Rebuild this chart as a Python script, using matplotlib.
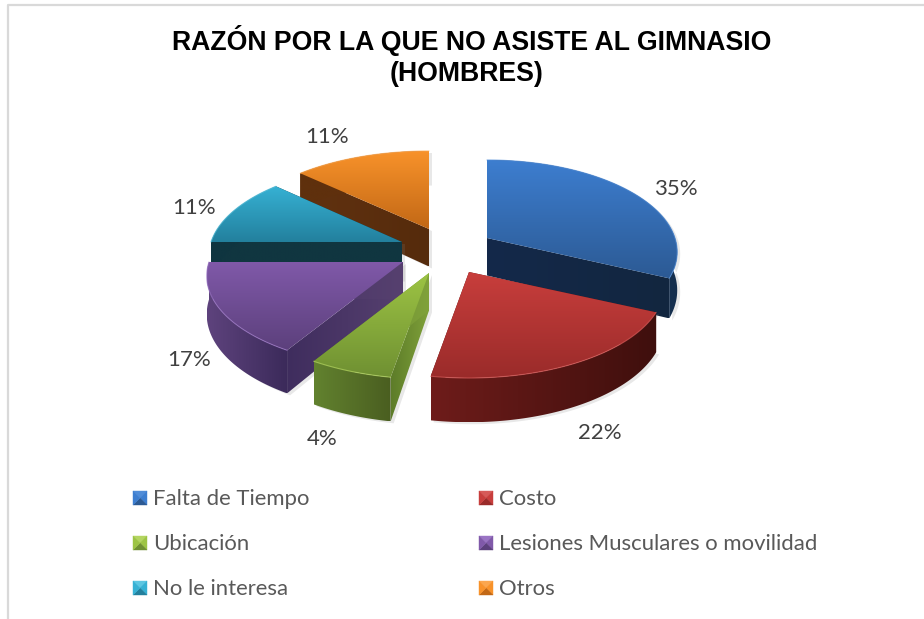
import numpy as np
import matplotlib
matplotlib.use("Agg")
import matplotlib.pyplot as plt
from matplotlib.colors import LinearSegmentedColormap
from matplotlib.patches import Polygon

# datos del grafico
categorias = ["Falta de Tiempo", "Costo", "Ubicación",
              "Lesiones Musculares o movilidad", "No le interesa", "Otros"]
porcentajes = [35, 22, 4, 17, 11, 11]
# tamano visible de cada porcion (la vista 3D lo deforma)
cuota_visible = [31.9, 20.8, 6.0, 16.3, 12.0, 13.0]
titulo_lineas = ["RAZÓN POR LA QUE NO ASISTE AL GIMNASIO", "(HOMBRES)"]

# estilo de cada porcion: vertice, cara superior, borde, corte, marcador
vertices = [(487, 238), (469, 272), (429, 273), (403, 262), (402, 242), (429, 229)]
radios = [188, 193, 193, 194, 191, 195]
sup_colores = [("#3d7ed0", "#2c5a94"), ("#c83e3c", "#9a2b2a"), ("#9dc444", "#6f9032"),
               ("#8059a9", "#5c407c"), ("#36b1d4", "#23809d"), ("#f8922a", "#c26816")]
pared_colores = [("#12253f", "#16304f"), ("#6e1c1a", "#3f0f0d"), ("#62822f", "#4a5e20"),
                 ("#5e437d", "#3b2a5a"), ("#0f3540", "#0f3540"), ("#5f300d", "#5f300d")]
corte_colores = [("#14294a", "#12263f"), ("#5a1614", "#5a1614"), ("#5d7c29", "#80a23a"),
                 ("#3f2d5e", "#56406f"), ("#103640", "#103640"), ("#623210", "#552b0c")]
brillo = ["#4f8cd8", "#d65a58", "#b4d561", "#9a74c4", "#5cc6e2", "#fba64e"]
pos_etiquetas = [(676, 189), (600, 433), (322, 439), (189, 360), (194, 208), (327, 137)]
pos_leyenda = [(133, 498), (479, 498), (133, 543), (479, 543), (133, 588), (479, 588)]
orden_dibujo = [5, 0, 4, 3, 2, 1]

ALTO_ATRAS = 78.0
ALTO_FRENTE = 106.0
k = (ALTO_FRENTE - ALTO_ATRAS) / (ALTO_FRENTE + ALTO_ATRAS)
a = ALTO_ATRAS * (1 + k)
GROSOR = 37.5

plt.rcParams["font.family"] = ["Lato", "DejaVu Sans"]
fig = plt.figure(figsize=(9.24, 6.19), dpi=100)
ax = fig.add_axes([0, 0, 1, 1])


def proyectar(theta, rx):
    x = np.sin(theta)
    y = np.cos(theta)
    s = 1 / (1 + k * y)
    return rx * x * s, -a * y * s, GROSOR * s


def relleno(puntos, colores, vertical, z):
    # degradado recortado con la forma del poligono
    puntos = np.asarray(puntos)
    cmap = LinearSegmentedColormap.from_list("g", colores)
    grad = np.linspace(0, 1, 256)
    grad = grad[:, None] if vertical else grad[None, :]
    x0, y0 = puntos.min(axis=0)
    x1, y1 = puntos.max(axis=0)
    im = ax.imshow(grad, cmap=cmap, extent=[x0, x1, y1, y0], aspect="auto",
                   origin="upper", zorder=z, interpolation="bilinear")
    forma = Polygon(puntos, closed=True, transform=ax.transData, facecolor="none", edgecolor="none")
    ax.add_patch(forma)
    im.set_clip_path(forma)


limites = np.cumsum([0] + cuota_visible) / 100 * 2 * np.pi
z = 3
for i in orden_dibujo:
    cx, cy = vertices[i]
    t = np.linspace(limites[i], limites[i + 1], 80)
    px, py, pg = proyectar(t, radios[i])
    px = cx + px
    py = cy + py

    # sombra suave
    ax.add_patch(Polygon(np.column_stack([np.r_[cx, px, px[::-1], cx] + 3,
                                          np.r_[cy, py, py[::-1] + pg[::-1], cy + GROSOR] + 2]),
                         facecolor="#808080", alpha=0.18, edgecolor="none", zorder=z))
    z += 1
    # caras de corte
    for j in [0, -1]:
        cara = [(cx, cy), (px[j], py[j]), (px[j], py[j] + pg[j]), (cx, cy + GROSOR)]
        relleno(cara, corte_colores[i], False, z)
        z += 1
    # pared exterior
    pared = np.column_stack([np.r_[px, px[::-1]], np.r_[py, py[::-1] + pg[::-1]]])
    relleno(pared, pared_colores[i], False, z)
    z += 1
    # cara superior
    cara_sup = np.column_stack([np.r_[cx, px], np.r_[cy, py]])
    relleno(cara_sup, sup_colores[i], True, z)
    z += 1
    ax.plot(px, py, color=brillo[i], lw=0.8, alpha=0.7, zorder=z, solid_capstyle="round")
    z += 1

# marco del grafico
ax.plot([8, 8, 924], [619, 5, 5], color="#d9d9d9", lw=1.6, zorder=1)

for (x, y), linea in zip([(472, 41), (467, 74)], titulo_lineas):
    ax.text(x, y, linea, ha="center", va="center", fontsize=19.2, fontweight="bold",
            family="Liberation Sans", color="#000000", zorder=50)

for (x, y), p in zip(pos_etiquetas, porcentajes):
    ax.text(x, y, f"{p}%", ha="center", va="center", fontsize=16, color="#404040", zorder=50)

# leyenda
L = 14
for i, (x, y) in enumerate(pos_leyenda):
    c = (x + L / 2, y)
    esq = [(x, y - L / 2), (x + L, y - L / 2), (x + L, y + L / 2), (x, y + L / 2)]
    tonos = [brillo[i], sup_colores[i][0], sup_colores[i][1], sup_colores[i][0]]
    for n in range(4):
        tri = [esq[n], esq[(n + 1) % 4], c]
        ax.add_patch(Polygon(tri, facecolor=tonos[n], edgecolor=tonos[n], lw=0.3, zorder=40))
    ax.text(x + 20, y + 1, categorias[i], ha="left", va="center", fontsize=15.9, color="#595959", zorder=50)

ax.set_xlim(0, 924)
ax.set_ylim(619, 0)
ax.axis("off")
fig.savefig("out.png", dpi=100, facecolor="white")
